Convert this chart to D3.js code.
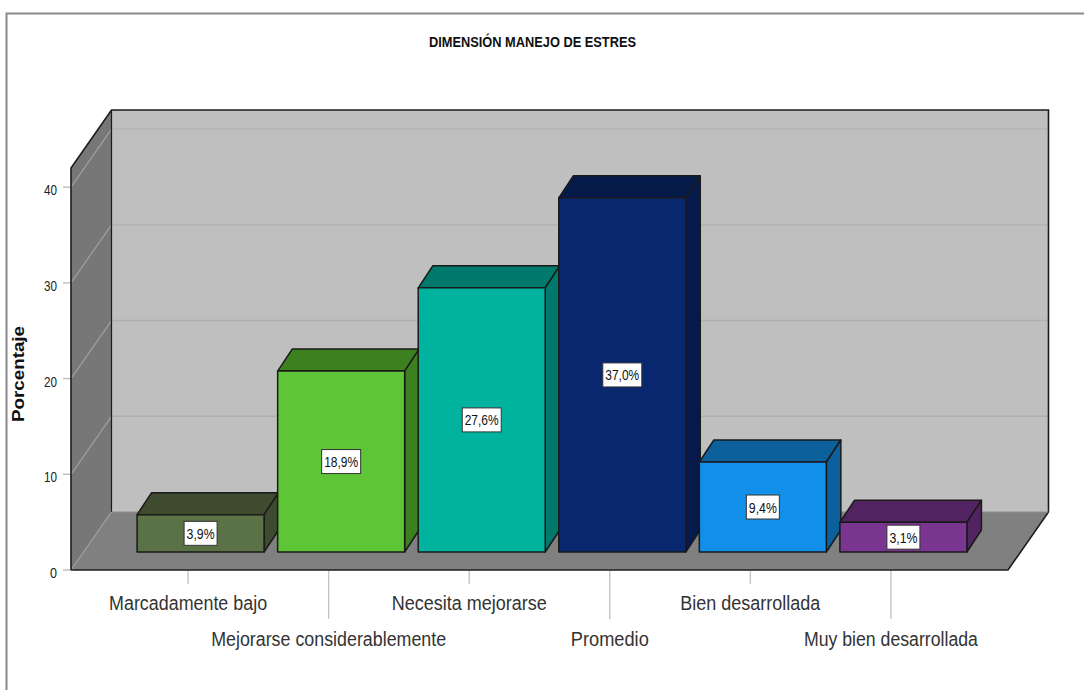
<!DOCTYPE html>
<html><head><meta charset="utf-8">
<script src="https://cdn.jsdelivr.net/npm/d3@7"></script>
<style>html,body{margin:0;padding:0;background:#fff}svg{display:block}text{font-family:"Liberation Sans",Arial,sans-serif}</style>
</head><body><svg id="c" width="1084" height="690"></svg>
<script>
const categories=["Marcadamente bajo","Mejorarse considerablemente","Necesita mejorarse","Promedio","Bien desarrollada","Muy bien desarrollada"];
const values=[3.9,18.9,27.6,37.0,9.4,3.1];
const valueLabels=["3,9%","18,9%","27,6%","37,0%","9,4%","3,1%"];
const frontColors=["#5B7146","#5EC636","#00B39E","#09276F","#128FE8","#7A3590"];
const darkColors=["#3E4B2E","#3D8020","#00786B","#061A4A","#0C609B","#512360"];
const yTicks=[0,10,20,30,40];
const title="DIMENSIÓN MANEJO DE ESTRES", yTitle="Porcentaje";

const svg=d3.select("#c");
const x=d3.scalePoint().domain(categories).range([71,1008]).padding(0.833);
const y=d3.scaleLinear().domain([0,42]).range([570,168]);
const wall={dx:40.5,dy:-58}, base={dx:12.5,dy:-18}, depth={dx:14.5,dy:-22}, barW=127;
const pts=a=>a.map(p=>p.join(",")).join(" ");

svg.append("path").attr("d","M6.5,690V13.5H1084").attr("fill","none").attr("stroke","#8a8a8a").attr("stroke-width",2);

const x0=71,x1=1008,y0=y(0),yT=y(42);
svg.append("polygon").attr("points",pts([[x0+wall.dx,yT+wall.dy],[x1+wall.dx,yT+wall.dy],[x1+wall.dx,y0+wall.dy],[x0+wall.dx,y0+wall.dy]])).attr("fill","#BFBFBF");
svg.append("polygon").attr("points",pts([[x0,yT],[x0+wall.dx,yT+wall.dy],[x0+wall.dx,y0+wall.dy],[x0,y0]])).attr("fill","#777777");
svg.append("polygon").attr("points",pts([[x0,y0],[x1,y0],[x1+wall.dx,y0+wall.dy],[x0+wall.dx,y0+wall.dy]])).attr("fill","#808080");
yTicks.forEach(v=>{
  if(v>0) svg.append("line").attr("x1",x0+wall.dx).attr("x2",x1+wall.dx).attr("y1",y(v)+wall.dy).attr("y2",y(v)+wall.dy).attr("stroke","#B0B0B0").attr("stroke-width",1.4);
  svg.append("line").attr("x1",x0).attr("x2",x0+wall.dx).attr("y1",y(v)).attr("y2",y(v)+wall.dy).attr("stroke","#A0A0A0").attr("stroke-width",1.2);
  svg.append("line").attr("x1",x0-8).attr("x2",x0).attr("y1",y(v)).attr("y2",y(v)).attr("stroke","#BDBDBD").attr("stroke-width",1.4);
  svg.append("text").attr("x",x0-14).attr("y",y(v)+8).attr("text-anchor","end").attr("font-size",14).attr("fill","#222")
    .attr("textLength",v?13:7).attr("lengthAdjust","spacingAndGlyphs").text(v);
});
const edge="#1c1c1c";
svg.append("path").attr("fill","none").attr("stroke",edge).attr("stroke-width",1.6)
 .attr("d",`M${x0},${y0}V${yT}L${x0+wall.dx},${yT+wall.dy}H${x1+wall.dx}V${y0+wall.dy}L${x1},${y0}H${x0}`);
svg.append("path").attr("fill","none").attr("stroke",edge).attr("stroke-width",1.2)
 .attr("d",`M${x0+wall.dx},${yT+wall.dy}V${y0+wall.dy}`);
svg.append("line").attr("x1",x0+wall.dx).attr("x2",x1+wall.dx).attr("y1",y0+wall.dy).attr("y2",y0+wall.dy).attr("stroke","#8E8E8E").attr("stroke-width",1.2);

categories.forEach((c,i)=>{
  const px=x(c), odd=i%2===1;
  svg.append("line").attr("x1",px).attr("x2",px).attr("y1",y0+1).attr("y2",odd?619:584).attr("stroke","#C4C4C4").attr("stroke-width",1.4);
  svg.append("text").attr("x",px).attr("y",odd?646:610).attr("text-anchor","middle").attr("font-size",20)
   .attr("fill","#333").attr("textLength",[158,235,155,78,140,174][i]).attr("lengthAdjust","spacingAndGlyphs").text(c);
});

categories.forEach((c,i)=>{
  const L=x(c)+base.dx-barW/2, R=L+barW, B=y(0)+base.dy, T=y(values[i])+base.dy;
  const g=svg.append("g").attr("stroke","#1a1a1a").attr("stroke-width",1.5).attr("stroke-linejoin","round");
  g.append("polygon").attr("fill",darkColors[i]).attr("points",pts([[L,T],[R,T],[R+depth.dx,T+depth.dy],[L+depth.dx,T+depth.dy]]));
  g.append("polygon").attr("fill",darkColors[i]).attr("points",pts([[R,T],[R+depth.dx,T+depth.dy],[R+depth.dx,B+depth.dy],[R,B]]));
  g.append("rect").attr("x",L).attr("y",T).attr("width",barW).attr("height",B-T).attr("fill",frontColors[i]);
  const cx=(L+R)/2, cy=(T+B)/2;
  const t=valueLabels[i], w=t.length>4?39:33;
  svg.append("rect").attr("x",cx-w/2).attr("y",cy-12).attr("width",w).attr("height",24).attr("fill","#fff").attr("stroke","#333").attr("stroke-width",1);
  svg.append("text").attr("x",cx).attr("y",cy+5.5).attr("text-anchor","middle").attr("font-size",15).attr("fill","#111")
    .attr("textLength",w-5).attr("lengthAdjust","spacingAndGlyphs").text(t);
});

svg.append("text").attr("x",532.5).attr("y",47).attr("text-anchor","middle").attr("font-size",15.5).attr("font-weight","bold").attr("fill","#111")
  .attr("textLength",207).attr("lengthAdjust","spacingAndGlyphs").text(title);
svg.append("text").attr("transform","translate(24,374) rotate(-90)").attr("text-anchor","middle").attr("font-size",17).attr("font-weight","bold").attr("fill","#111")
  .attr("textLength",96).attr("lengthAdjust","spacingAndGlyphs").text(yTitle);
</script></body></html>
